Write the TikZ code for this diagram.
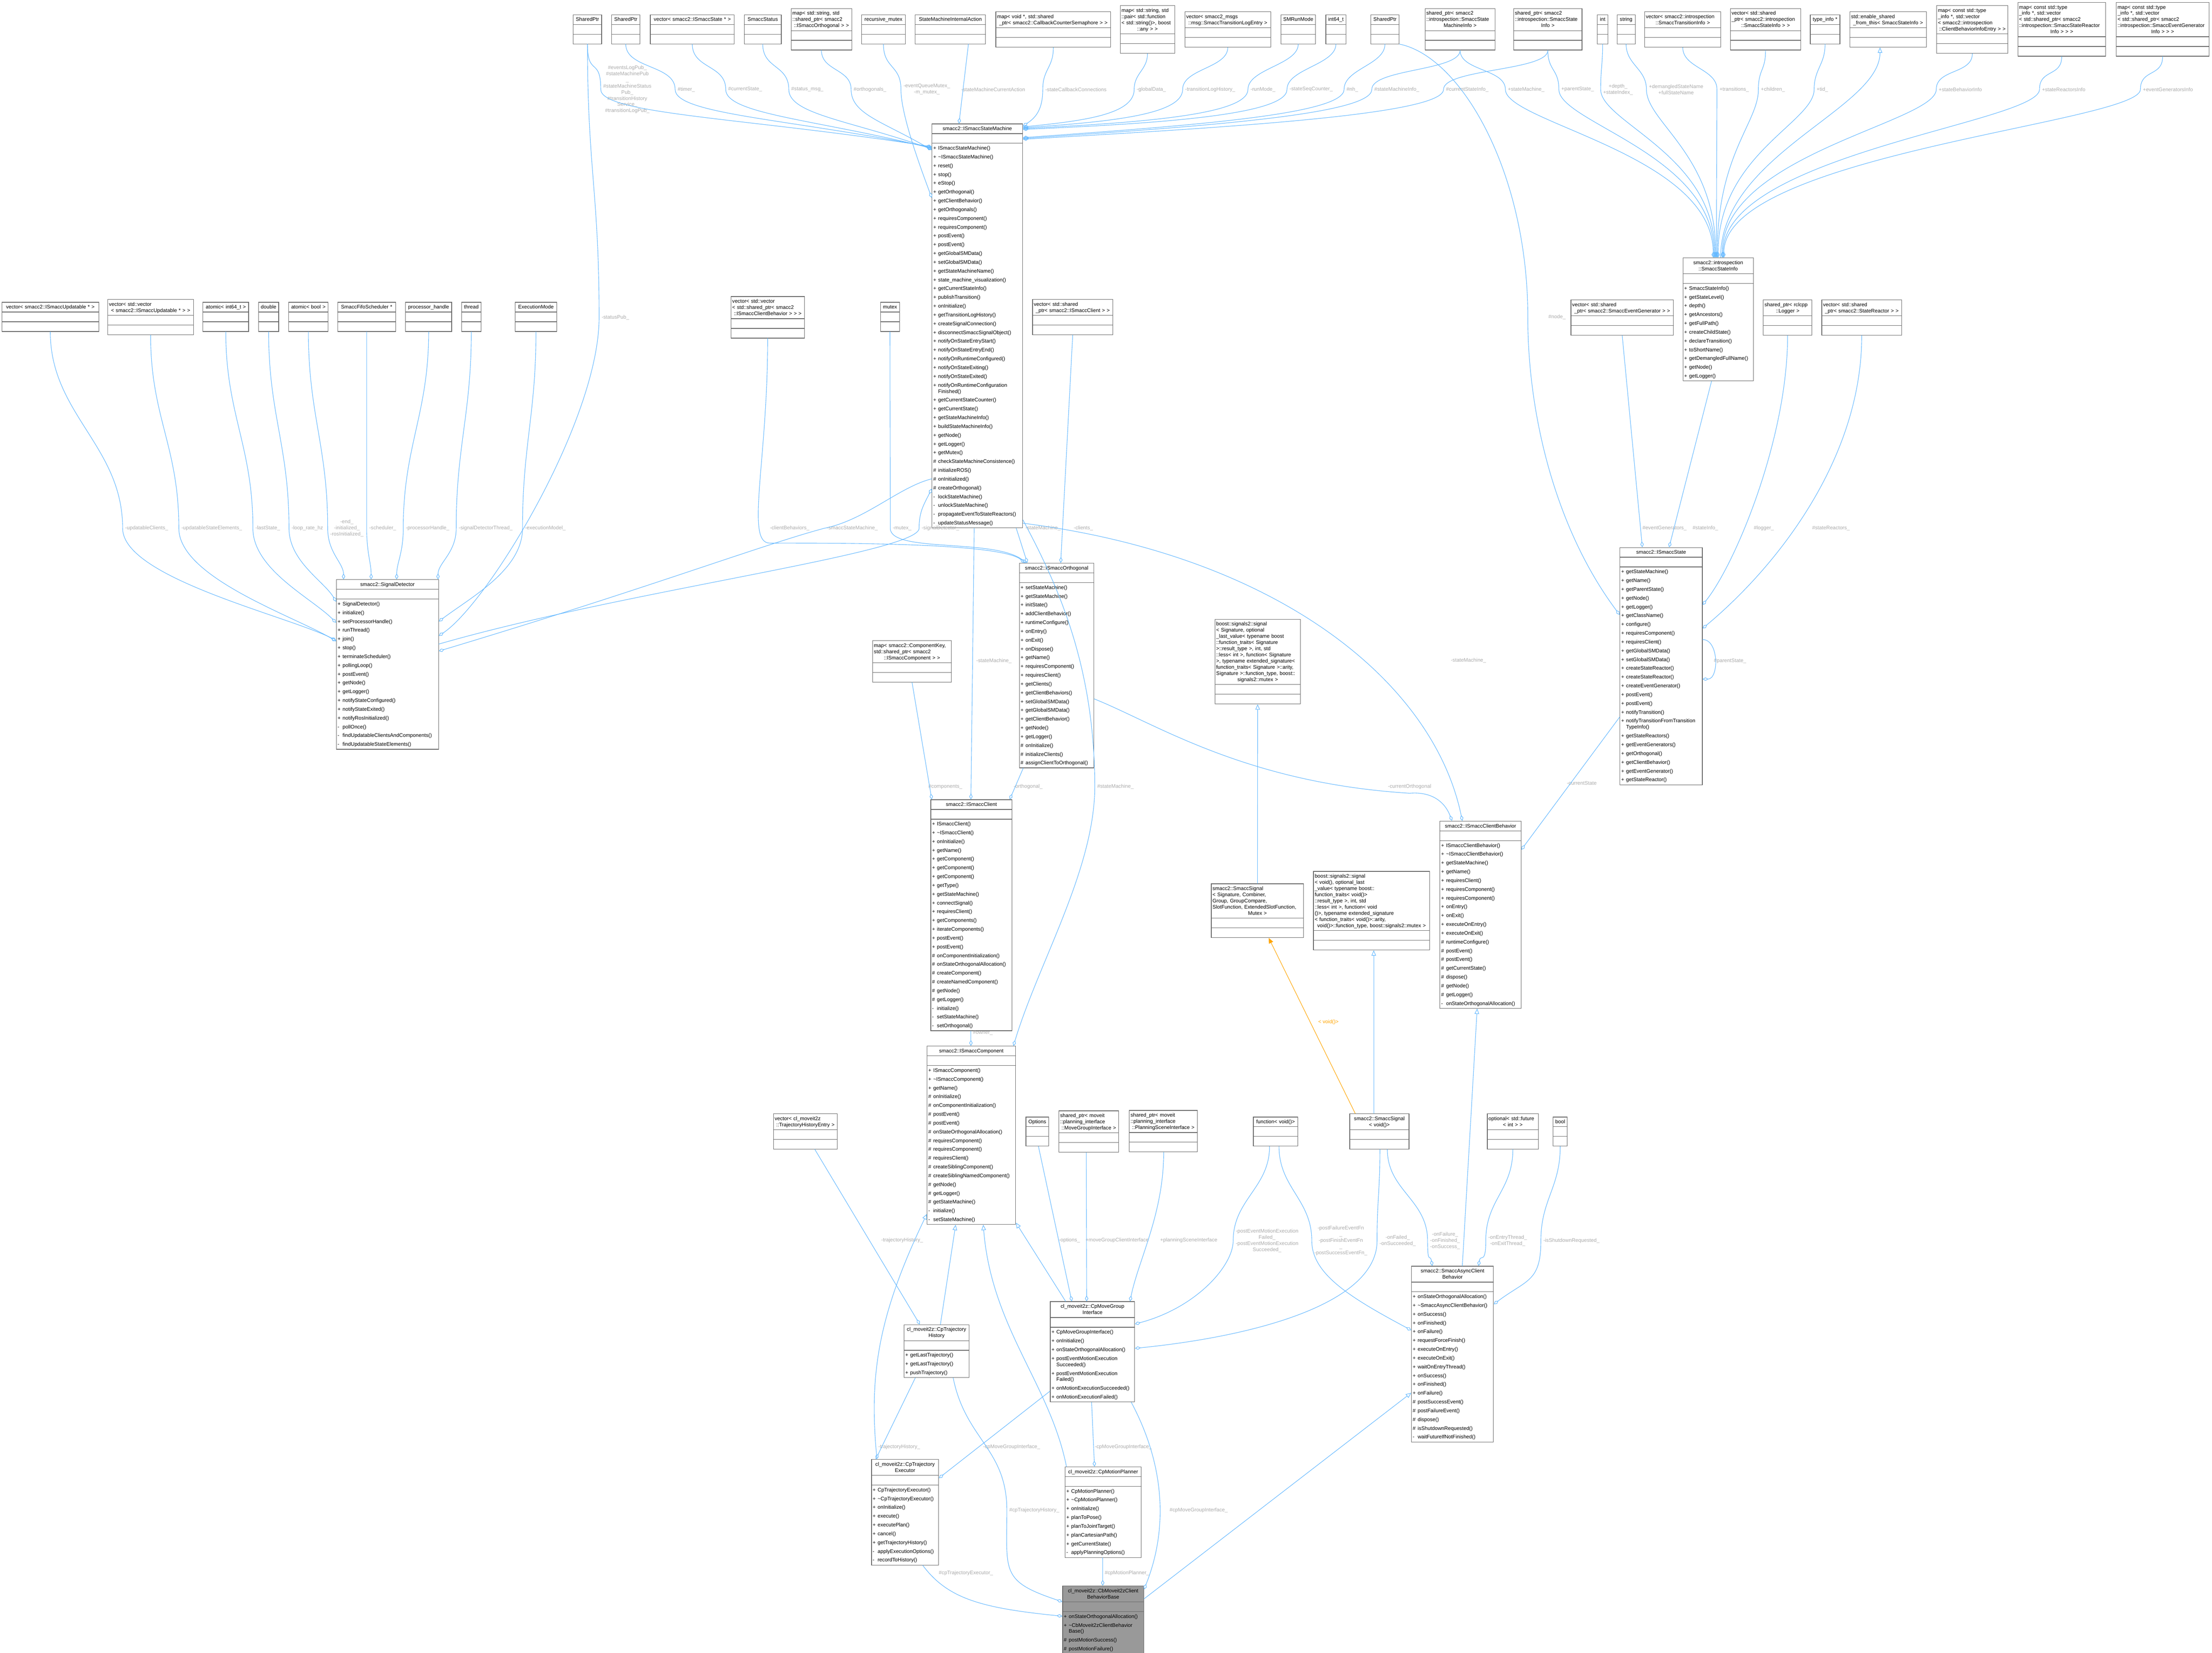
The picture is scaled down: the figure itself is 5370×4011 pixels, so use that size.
\documentclass[tikz,border=0pt]{standalone}
\usepackage{fontspec}
\setmainfont{Liberation Sans}
\usepackage{tikz}
\usetikzlibrary{arrows.meta,shapes.multipart}

\newcommand{\umlh}{\rule{0pt}{14.2pt}}
\newcommand{\umld}{\rule[-6.1pt]{0pt}{6.1pt}}
\newcommand{\ctitle}[1]{\centering\noindent\umlh#1\umld\par}
\newcommand{\ttitle}[2]{\raggedright\noindent\umlh#1\par\centering\noindent#2\umld\par}
\newcommand{\mline}[2]{\noindent\hangindent=12pt\hangafter=1\umlh\makebox[12pt][l]{#1}#2\umld\par}
\newcommand{\mpub}[1]{\mline{+}{#1}}
\newcommand{\mpro}[1]{\mline{\#}{#1}}
\newcommand{\mpri}[1]{\mline{-}{#1}}
\newcommand{\nopart}{\noindent\umlh\umld\par}
\newcommand{\tld}{\textasciitilde}

\begin{document}
\begin{tikzpicture}[x=1pt,y=-1pt,line cap=round]
  % Local definitions
  \def\typebox#1#2#3#4{\node[cls,text width=#3pt] (#1) at (#2) {#4\nodepart{second}\nopart\nodepart{third}\nopart};}

  % Colors
  \definecolor{steelblue}{HTML}{63B8FF}
  \definecolor{boxgrey}{HTML}{666666}
  \definecolor{labelgrey}{HTML}{ABABAB}
  \definecolor{maingrey}{HTML}{999999}
  \definecolor{tmplorange}{HTML}{FFA500}
  \colorlet{edgecolor}{steelblue}

  % Styles
  \tikzstyle{cls}=[rectangle split, rectangle split parts=3, draw=boxgrey, fill=white, line width=1.3pt,
    anchor=north west, inner xsep=3pt, inner ysep=1pt, align=left, font=\fontsize{12.5}{15}\selectfont]
  \tikzstyle{lbl}=[text=labelgrey, font=\fontsize{12.5}{15}\selectfont, align=center, inner sep=0pt]
  \tikzstyle{member}=[draw=edgecolor, line width=1.2pt, {Diamond[open,length=14pt,width=8pt]}-]
  \tikzstyle{inherit}=[draw=edgecolor, line width=1.2pt, {Triangle[open,length=13pt,width=11pt]}-]
  \tikzstyle{tmpl}=[draw=tmplorange, line width=1.2pt, {Triangle[length=13pt,width=11pt]}-]

  \fill[white] (0,0) rectangle (5370,4011);
  \useasboundingbox (0,0) rectangle (5370,4011);

  % member types, top row
  \typebox{sp1}{1391,35}{63}{\ctitle{SharedPtr}}
  \typebox{sp2}{1484,35}{63}{\ctitle{SharedPtr}}
  \typebox{vstate}{1578,35}{198}{\ctitle{vector< smacc2::ISmaccState * >}}
  \typebox{status}{1806,35}{84}{\ctitle{SmaccStatus}}
  \typebox{morth}{1920,20}{141}{\ttitle{map< std::string, std\\::shared\_ptr< smacc2}{::ISmaccOrthogonal > >}}
  \typebox{rmutex}{2091,35}{100}{\ctitle{recursive\_mutex}}
  \typebox{smia}{2221,35}{165}{\ctitle{StateMachineInternalAction}}
  \typebox{mcb}{2417,28}{273}{\ttitle{map< void *, std::shared}{\_ptr< smacc2::CallbackCounterSemaphore > >}}
  \typebox{mglob}{2719,13}{126}{\ttitle{map< std::string, std\\::pair< std::function\\< std::string()>, boost}{::any > >}}
  \typebox{vlog}{2876,28}{202}{\ttitle{vector< smacc2\_msgs}{::msg::SmaccTransitionLogEntry >}}
  \typebox{smrun}{3109,35}{78}{\ctitle{SMRunMode}}
  \typebox{i64}{3218,35}{43}{\ctitle{int64\_t}}
  \typebox{sp3}{3327,35}{63}{\ctitle{SharedPtr}}
  \typebox{psmi}{3459,20}{164}{\ttitle{shared\_ptr< smacc2\\::introspection::SmaccState}{MachineInfo >}}
  \typebox{psi}{3674,20}{160}{\ttitle{shared\_ptr< smacc2\\::introspection::SmaccState}{Info >}}
  \typebox{int}{3877,35}{20}{\ctitle{int}}
  \typebox{string}{3925,35}{38}{\ctitle{string}}
  \typebox{vtrans}{3992,28}{179}{\ttitle{vector< smacc2::introspection}{::SmaccTransitionInfo >}}
  \typebox{vchild}{4200,20}{165}{\ttitle{vector< std::shared\\\_ptr< smacc2::introspection}{::SmaccStateInfo > >}}
  \typebox{tinfo}{4394,35}{66}{\ctitle{type\_info *}}
  \typebox{eshared}{4490,28}{180}{\ttitle{std::enable\_shared}{\_from\_this< SmaccStateInfo >}}
  \typebox{mbeh}{4701,13}{167}{\ttitle{map< const std::type\\\_info *, std::vector\\< smacc2::introspection}{::ClientBehaviorInfoEntry > >}}
  \typebox{mreact}{4898,5}{207}{\ttitle{map< const std::type\\\_info *, std::vector\\< std::shared\_ptr< smacc2\\::introspection::SmaccStateReactor}{Info > > >}}
  \typebox{mevgen}{5137,5}{219}{\ttitle{map< const std::type\\\_info *, std::vector\\< std::shared\_ptr< smacc2\\::introspection::SmaccEventGenerator}{Info > > >}}

  % member types, middle row
  \typebox{vupd}{4,733}{229}{\ctitle{vector< smacc2::ISmaccUpdatable * >}}
  \typebox{vvupd}{261,726}{202}{\ttitle{vector< std::vector}{< smacc2::ISmaccUpdatable * > >}}
  \typebox{ai64}{492,733}{105}{\ctitle{atomic< int64\_t >}}
  \typebox{dbl}{627,733}{43}{\ctitle{double}}
  \typebox{abool}{700,733}{90}{\ctitle{atomic< bool >}}
  \typebox{sched}{819,733}{135}{\ctitle{SmaccFifoScheduler *}}
  \typebox{proch}{984,733}{106}{\ctitle{processor\_handle}}
  \typebox{thrd}{1120,733}{41}{\ctitle{thread}}
  \typebox{execm}{1250,733}{95}{\ctitle{ExecutionMode}}
  \typebox{vvcb}{1774,719}{172}{\ttitle{vector< std::vector\\< std::shared\_ptr< smacc2}{::ISmaccClientBehavior > > >}}
  \typebox{mtx}{2137,733}{40}{\ctitle{mutex}}
  \typebox{vcli}{2506,726}{189}{\ttitle{vector< std::shared}{\_ptr< smacc2::ISmaccClient > >}}
  \typebox{veg}{3813,727}{243}{\ttitle{vector< std::shared}{\_ptr< smacc2::SmaccEventGenerator > >}}
  \typebox{plog}{4280,727}{112}{\ttitle{shared\_ptr< rclcpp}{::Logger >}}
  \typebox{vsr}{4422,727}{188}{\ttitle{vector< std::shared}{\_ptr< smacc2::StateReactor > >}}
  \typebox{mcomp}{2118,1554}{185}{\ttitle{map< smacc2::ComponentKey,\\std::shared\_ptr< smacc2}{::ISmaccComponent > >}}

  % signals
  \typebox{bsig}{2949,1502}{201}{\ttitle{boost::signals2::signal\\< Signature, optional\\\_last\_value< typename boost\\::function\_traits< Signature\\ >::result\_type >, int, std\\::less< int >, function< Signature\\ >, typename extended\_signature<\\ function\_traits< Signature >::arity,\\ Signature >::function\_type, boost::}{signals2::mutex >}}
  \typebox{ssig}{2940,2144}{218}{\ttitle{smacc2::SmaccSignal\\< Signature, Combiner,\\ Group, GroupCompare,\\ SlotFunction, ExtendedSlotFunction,}{Mutex >}}
  \typebox{bsigv}{3188,2114}{276}{\ttitle{boost::signals2::signal\\< void(), optional\_last\\\_value< typename boost::\\function\_traits< void()>\\::result\_type >, int, std\\::less< int >, function< void\\()>, typename extended\_signature\\< function\_traits< void()>::arity,}{void()>::function\_type, boost::signals2::mutex >}}
  \typebox{ssigv}{3276,2702}{138}{\ctitle{smacc2::SmaccSignal\\< void()>}}
  \typebox{fvoid}{3042,2710}{102}{\ctitle{function< void()>}}
  \typebox{optf}{3610,2702}{118}{\ttitle{optional< std::future}{< int > >}}
  \typebox{bool}{3770,2710}{28}{\ctitle{bool}}

  % moveit2z member types
  \typebox{vthe}{1877,2702}{149}{\ttitle{vector< cl\_moveit2z}{::TrajectoryHistoryEntry >}}
  \typebox{opts}{2490,2710}{49}{\ctitle{Options}}
  \typebox{pmgi}{2570,2695}{139}{\ttitle{shared\_ptr< moveit\\::planning\_interface}{::MoveGroupInterface >}}
  \typebox{ppsi}{2741,2694}{159}{\ttitle{shared\_ptr< moveit\\::planning\_interface}{::PlanningSceneInterface >}}

  % classes
  \node[cls,text width=214pt] (sm) at (2262,300) {\ctitle{smacc2::ISmaccStateMachine}\nodepart{second}\nopart\nodepart{third}
    \mpub{ISmaccStateMachine()}\mpub{\tld ISmaccStateMachine()}\mpub{reset()}\mpub{stop()}\mpub{eStop()}
    \mpub{getOrthogonal()}\mpub{getClientBehavior()}\mpub{getOrthogonals()}\mpub{requiresComponent()}
    \mpub{requiresComponent()}\mpub{postEvent()}\mpub{postEvent()}\mpub{getGlobalSMData()}\mpub{setGlobalSMData()}
    \mpub{getStateMachineName()}\mpub{state\_machine\_visualization()}\mpub{getCurrentStateInfo()}
    \mpub{publishTransition()}\mpub{onInitialize()}\mpub{getTransitionLogHistory()}\mpub{createSignalConnection()}
    \mpub{disconnectSmaccSignalObject()}\mpub{notifyOnStateEntryStart()}\mpub{notifyOnStateEntryEnd()}
    \mpub{notifyOnRuntimeConfigured()}\mpub{notifyOnStateExiting()}\mpub{notifyOnStateExited()}
    \mpub{notifyOnRuntimeConfiguration\newline Finished()}\mpub{getCurrentStateCounter()}\mpub{getCurrentState()}
    \mpub{getStateMachineInfo()}\mpub{buildStateMachineInfo()}\mpub{getNode()}\mpub{getLogger()}\mpub{getMutex()}
    \mpro{checkStateMachineConsistence()}\mpro{initializeROS()}\mpro{onInitialized()}\mpro{createOrthogonal()}
    \mpri{lockStateMachine()}\mpri{unlockStateMachine()}\mpri{propagateEventToStateReactors()}\mpri{updateStatusMessage()}};
  \node[cls,text width=242pt] (sigdet) at (816,1406) {\ctitle{smacc2::SignalDetector}\nodepart{second}\nopart\nodepart{third}
    \mpub{SignalDetector()}\mpub{initialize()}\mpub{setProcessorHandle()}\mpub{runThread()}\mpub{join()}\mpub{stop()}
    \mpub{terminateScheduler()}\mpub{pollingLoop()}\mpub{postEvent()}\mpub{getNode()}\mpub{getLogger()}
    \mpub{notifyStateConfigured()}\mpub{notifyStateExited()}\mpub{notifyRosInitialized()}\mpri{pollOnce()}
    \mpri{findUpdatableClientsAndComponents()}\mpri{findUpdatableStateElements()}};
  \node[cls,text width=175pt] (orth) at (2474,1366) {\ctitle{smacc2::ISmaccOrthogonal}\nodepart{second}\nopart\nodepart{third}
    \mpub{setStateMachine()}\mpub{getStateMachine()}\mpub{initState()}\mpub{addClientBehavior()}\mpub{runtimeConfigure()}
    \mpub{onEntry()}\mpub{onExit()}\mpub{onDispose()}\mpub{getName()}\mpub{requiresComponent()}\mpub{requiresClient()}
    \mpub{getClients()}\mpub{getClientBehaviors()}\mpub{setGlobalSMData()}\mpub{getGlobalSMData()}\mpub{getClientBehavior()}
    \mpub{getNode()}\mpub{getLogger()}\mpro{onInitialize()}\mpro{initializeClients()}\mpro{assignClientToOrthogonal()}};
  \node[cls,text width=191pt] (cli) at (2259,1940) {\ctitle{smacc2::ISmaccClient}\nodepart{second}\nopart\nodepart{third}
    \mpub{ISmaccClient()}\mpub{\tld ISmaccClient()}\mpub{onInitialize()}\mpub{getName()}\mpub{getComponent()}
    \mpub{getComponent()}\mpub{getComponent()}\mpub{getType()}\mpub{getStateMachine()}\mpub{connectSignal()}
    \mpub{requiresClient()}\mpub{getComponents()}\mpub{iterateComponents()}\mpub{postEvent()}\mpub{postEvent()}
    \mpro{onComponentInitialization()}\mpro{onStateOrthogonalAllocation()}\mpro{createComponent()}
    \mpro{createNamedComponent()}\mpro{getNode()}\mpro{getLogger()}\mpri{initialize()}\mpri{setStateMachine()}
    \mpri{setOrthogonal()}};
  \node[cls,text width=209pt] (comp) at (2250,2538) {\ctitle{smacc2::ISmaccComponent}\nodepart{second}\nopart\nodepart{third}
    \mpub{ISmaccComponent()}\mpub{\tld ISmaccComponent()}\mpub{getName()}\mpro{onInitialize()}
    \mpro{onComponentInitialization()}\mpro{postEvent()}\mpro{postEvent()}\mpro{onStateOrthogonalAllocation()}
    \mpro{requiresComponent()}\mpro{requiresComponent()}\mpro{requiresClient()}\mpro{createSiblingComponent()}
    \mpro{createSiblingNamedComponent()}\mpro{getNode()}\mpro{getLogger()}\mpro{getStateMachine()}
    \mpri{initialize()}\mpri{setStateMachine()}};
  \node[cls,text width=165pt] (ssi) at (4085,625) {\ctitle{smacc2::introspection\\::SmaccStateInfo}\nodepart{second}\nopart\nodepart{third}
    \mpub{SmaccStateInfo()}\mpub{getStateLevel()}\mpub{depth()}\mpub{getAncestors()}\mpub{getFullPath()}
    \mpub{createChildState()}\mpub{declareTransition()}\mpub{toShortName()}\mpub{getDemangledFullName()}
    \mpub{getNode()}\mpub{getLogger()}};
  \node[cls,text width=194pt] (st) at (3932,1328) {\ctitle{smacc2::ISmaccState}\nodepart{second}\nopart\nodepart{third}
    \mpub{getStateMachine()}\mpub{getName()}\mpub{getParentState()}\mpub{getNode()}\mpub{getLogger()}
    \mpub{getClassName()}\mpub{configure()}\mpub{requiresComponent()}\mpub{requiresClient()}\mpub{getGlobalSMData()}
    \mpub{setGlobalSMData()}\mpub{createStateReactor()}\mpub{createStateReactor()}\mpub{createEventGenerator()}
    \mpub{postEvent()}\mpub{postEvent()}\mpub{notifyTransition()}\mpub{notifyTransitionFromTransition\newline TypeInfo()}
    \mpub{getStateReactors()}\mpub{getEventGenerators()}\mpub{getOrthogonal()}\mpub{getClientBehavior()}
    \mpub{getEventGenerator()}\mpub{getStateReactor()}};
  \node[cls,text width=191pt] (cb) at (3495,1992) {\ctitle{smacc2::ISmaccClientBehavior}\nodepart{second}\nopart\nodepart{third}
    \mpub{ISmaccClientBehavior()}\mpub{\tld ISmaccClientBehavior()}\mpub{getStateMachine()}\mpub{getName()}
    \mpub{requiresClient()}\mpub{requiresComponent()}\mpub{requiresComponent()}\mpub{onEntry()}\mpub{onExit()}
    \mpub{executeOnEntry()}\mpub{executeOnExit()}\mpro{runtimeConfigure()}\mpro{postEvent()}\mpro{postEvent()}
    \mpro{getCurrentState()}\mpro{dispose()}\mpro{getNode()}\mpro{getLogger()}\mpri{onStateOrthogonalAllocation()}};
  \node[cls,text width=193pt] (async) at (3426,3072) {\ctitle{smacc2::SmaccAsyncClient\\Behavior}\nodepart{second}\nopart\nodepart{third}
    \mpub{onStateOrthogonalAllocation()}\mpub{\tld SmaccAsyncClientBehavior()}\mpub{onSuccess()}\mpub{onFinished()}
    \mpub{onFailure()}\mpub{requestForceFinish()}\mpub{executeOnEntry()}\mpub{executeOnExit()}\mpub{waitOnEntryThread()}
    \mpub{onSuccess()}\mpub{onFinished()}\mpub{onFailure()}\mpro{postSuccessEvent()}\mpro{postFailureEvent()}
    \mpro{dispose()}\mpro{isShutdownRequested()}\mpri{waitFutureIfNotFinished()}};
  \node[cls,text width=199pt] (mgi) at (2549,3158) {\ctitle{cl\_moveit2z::CpMoveGroup\\Interface}\nodepart{second}\nopart\nodepart{third}
    \mpub{CpMoveGroupInterface()}\mpub{onInitialize()}\mpub{onStateOrthogonalAllocation()}
    \mpub{postEventMotionExecution\newline Succeeded()}\mpub{postEventMotionExecution\newline Failed()}
    \mpub{onMotionExecutionSucceeded()}\mpub{onMotionExecutionFailed()}};
  \node[cls,text width=152pt] (hist) at (2194,3214) {\ctitle{cl\_moveit2z::CpTrajectory\\History}\nodepart{second}\nopart\nodepart{third}
    \mpub{getLastTrajectory()}\mpub{getLastTrajectory()}\mpub{pushTrajectory()}};
  \node[cls,text width=157pt] (exe) at (2115,3541) {\ctitle{cl\_moveit2z::CpTrajectory\\Executor}\nodepart{second}\nopart\nodepart{third}
    \mpub{CpTrajectoryExecutor()}\mpub{\tld CpTrajectoryExecutor()}\mpub{onInitialize()}\mpub{execute()}
    \mpub{executePlan()}\mpub{cancel()}\mpub{getTrajectoryHistory()}\mpri{applyExecutionOptions()}\mpri{recordToHistory()}};
  \node[cls,text width=179pt] (mp) at (2585,3559) {\ctitle{cl\_moveit2z::CpMotionPlanner}\nodepart{second}\nopart\nodepart{third}
    \mpub{CpMotionPlanner()}\mpub{\tld CpMotionPlanner()}\mpub{onInitialize()}\mpub{planToPose()}\mpub{planToJointTarget()}
    \mpub{planCartesianPath()}\mpub{getCurrentState()}\mpri{applyPlanningOptions()}};
  \node[cls,fill=maingrey,text width=191pt] (cbm) at (2579,3848) {\ctitle{cl\_moveit2z::CbMoveit2zClient\\BehaviorBase}\nodepart{second}\nopart\nodepart{third}
    \mpub{onStateOrthogonalAllocation()}\mpub{\tld CbMoveit2zClientBehavior\newline Base()}\mpro{postMotionSuccess()}
    \mpro{postMotionFailure()}};

  % edge labels
  \node[lbl] (l-pub) at (1523,217) {\#eventsLogPub\_\\\#stateMachinePub\\\_\\\#stateMachineStatus\\Pub\_\\\#transitionHistory\\Service\_\\\#transitionLogPub\_};
  \node[lbl] (l-timer) at (1666,217) {\#timer\_};
  \node[lbl] (l-cs) at (1809,217) {\#currentState\_};
  \node[lbl] (l-stmsg) at (1960,217) {\#status\_msg\_};
  \node[lbl] (l-orths) at (2112,217) {\#orthogonals\_};
  \node[lbl] (l-eqm) at (2250,217) {-eventQueueMutex\_\\-m\_mutex\_};
  \node[lbl] (l-smca) at (2411,217) {-stateMachineCurrentAction};
  \node[lbl] (l-scc) at (2612,217) {-stateCallbackConnections};
  \node[lbl] (l-glob) at (2795,217) {-globalData\_};
  \node[lbl] (l-tlh) at (2938,217) {-transitionLogHistory\_};
  \node[lbl] (l-run) at (3066,217) {-runMode\_};
  \node[lbl] (l-seq) at (3183,217) {-stateSeqCounter\_};
  \node[lbl] (l-nh) at (3283,217) {\#nh\_};
  \node[lbl] (l-smi) at (3391,217) {\#stateMachineInfo\_};
  \node[lbl] (l-csi) at (3562,217) {\#currentStateInfo\_};
  \node[lbl] (l-smc) at (3705,217) {+stateMachine\_};
  \node[lbl] (l-par) at (3830,217) {+parentState\_};
  \node[lbl] (l-depth) at (3928,217) {+depth\_\\+stateIndex\_};
  \node[lbl] (l-names) at (4069,217) {+demangledStateName\\+fullStateName};
  \node[lbl] (l-trans) at (4210,217) {+transitions\_};
  \node[lbl] (l-child) at (4304,217) {+children\_};
  \node[lbl] (l-tid) at (4424,217) {+tid\_};
  \node[lbl] (l-sbi) at (4759,217) {+stateBehaviorInfo};
  \node[lbl] (l-sri) at (5010,217) {+stateReactorsInfo};
  \node[lbl] (l-egi) at (5263,217) {+eventGeneratorsInfo};
  \node[lbl] (l-node) at (3780,769) {\#node\_};
  \node[lbl] (l-stpub) at (1494,770) {-statusPub\_};
  \node[lbl] (l-updc) at (356,1282) {-updatableClients\_};
  \node[lbl] (l-upse) at (514,1282) {-updatableStateElements\_};
  \node[lbl] (l-last) at (650,1282) {-lastState\_};
  \node[lbl] (l-loop) at (746,1282) {-loop\_rate\_hz};
  \node[lbl] (l-flags) at (842,1282) {-end\_\\-initialized\_\\-rosInitialized\_};
  \node[lbl] (l-sched) at (929,1282) {-scheduler\_};
  \node[lbl] (l-proc) at (1038,1282) {-processorHandle\_};
  \node[lbl] (l-thr) at (1179,1282) {-signalDetectorThread\_};
  \node[lbl] (l-exec) at (1324,1282) {-executionModel\_};
  \node[lbl] (l-cbeh) at (1917,1282) {-clientBehaviors\_};
  \node[lbl] (l-ssm) at (2069,1282) {-smaccStateMachine\_};
  \node[lbl] (l-mutex) at (2190,1282) {-mutex\_};
  \node[lbl] (l-sigd) at (2283,1282) {-signalDetector\_};
  \node[lbl] (l-osm) at (2532,1282) {-stateMachine\_};
  \node[lbl] (l-cli) at (2630,1282) {-clients\_};
  \node[lbl] (l-evg) at (4041,1282) {\#eventGenerators\_};
  \node[lbl] (l-sinfo) at (4140,1282) {\#stateInfo\_};
  \node[lbl] (l-logger) at (4282,1282) {\#logger\_};
  \node[lbl] (l-reac) at (4445,1282) {\#stateReactors\_};
  \node[lbl] (l-pst) at (4200,1604) {\#parentState\_};
  \node[lbl] (l-csm) at (2413,1604) {-stateMachine\_};
  \node[lbl] (l-bsm) at (3565,1603) {-stateMachine\_};
  \node[lbl] (l-comps) at (2295,1909) {\#components\_};
  \node[lbl] (l-orth) at (2496,1909) {-orthogonal\_};
  \node[lbl] (l-psm) at (2708,1909) {\#stateMachine\_};
  \node[lbl] (l-corth) at (3422,1909) {-currentOrthogonal};
  \node[lbl] (l-cst) at (3840,1900) {-currentState};
  \node[lbl] (l-owner) at (2386,2506) {\#owner\_};
  \node[lbl,text=tmplorange] (l-tvoid) at (3225,2480) {< void()>};
  \node[lbl] (l-th) at (2190,3010) {-trajectoryHistory\_};
  \node[lbl] (l-opt) at (2596,3010) {-options\_};
  \node[lbl] (l-mgci) at (2712,3010) {+moveGroupClientInterface};
  \node[lbl] (l-psi) at (2886,3010) {+planningSceneInterface};
  \node[lbl] (l-pemf) at (3076,3011) {-postEventMotionExecution\\Failed\_\\-postEventMotionExecution\\Succeeded\_};
  \node[lbl] (l-pfn) at (3255,3011) {-postFailureEventFn\\\_\\-postFinishEventFn\\\_\\-postSuccessEventFn\_};
  \node[lbl] (l-onfs) at (3393,3011) {-onFailed\_\\-onSucceeded\_};
  \node[lbl] (l-onfail) at (3508,3011) {-onFailure\_\\-onFinished\_\\-onSuccess\_};
  \node[lbl] (l-fut) at (3660,3011) {-onEntryThread\_\\-onExitThread\_};
  \node[lbl] (l-shut) at (3815,3011) {-isShutdownRequested\_};
  \node[lbl] (l-eth) at (2183,3511) {-trajectoryHistory\_};
  \node[lbl] (l-emgi) at (2456,3511) {-cpMoveGroupInterface\_};
  \node[lbl] (l-pmgi) at (2727,3511) {-cpMoveGroupInterface\_};
  \node[lbl] (l-cph) at (2511,3665) {\#cpTrajectoryHistory\_};
  \node[lbl] (l-cmgi) at (2910,3665) {\#cpMoveGroupInterface\_};
  \node[lbl] (l-cpe) at (2345,3818) {\#cpTrajectoryExecutor\_};
  \node[lbl] (l-cmp) at (2736,3818) {\#cpMotionPlanner\_};

  % ISmaccStateMachine members, left
  \draw[member] ([yshift=-56pt]sm.north west) .. controls +(-450,-70) and +(0,60) .. ([xshift=-6pt]l-pub.west) .. controls +(0,-80) and +(0,80) .. (sp1.south);
  \draw[member] ([yshift=-58pt]sm.north west) .. controls +(-350,-70) and +(0,60) .. ([xshift=-6pt]l-timer.west) .. controls +(0,-60) and +(0,60) .. (sp2.south);
  \draw[member] ([yshift=-60pt]sm.north west) .. controls +(-280,-70) and +(0,60) .. ([xshift=-6pt]l-cs.west) .. controls +(0,-60) and +(0,60) .. (vstate.south);
  \draw[member] ([yshift=-62pt]sm.north west) .. controls +(-200,-70) and +(0,60) .. ([xshift=-6pt]l-stmsg.west) .. controls +(0,-60) and +(0,60) .. (status.south);
  \draw[member] ([yshift=-64pt]sm.north west) .. controls +(-120,-70) and +(0,60) .. ([xshift=-6pt]l-orths.west) .. controls +(0,-50) and +(0,50) .. (morth.south);
  \draw[member] ([yshift=-180pt]sm.north west) .. controls +(-30,-80) and +(0,60) .. ([xshift=-6pt]l-eqm.west) .. controls +(0,-60) and +(0,60) .. (rmutex.south);
  \draw[member] ([xshift=66pt]sm.north west) -- ([xshift=130pt]smia.south west);

  % ISmaccStateMachine members, right
  \draw[member] ([yshift=-6pt]sm.north east) .. controls +(30,-20) and +(0,50) .. ([xshift=-6pt]l-scc.west) .. controls +(0,-50) and +(0,50) .. (mcb.south);
  \draw[member] ([yshift=-8pt]sm.north east) .. controls +(150,-15) and +(0,60) .. ([xshift=-6pt]l-glob.west) .. controls +(0,-40) and +(0,40) .. (mglob.south);
  \draw[member] ([yshift=-10pt]sm.north east) .. controls +(220,-15) and +(0,60) .. ([xshift=-6pt]l-tlh.west) .. controls +(0,-50) and +(0,50) .. (vlog.south);
  \draw[member] ([yshift=-12pt]sm.north east) .. controls +(300,-15) and +(0,60) .. ([xshift=-6pt]l-run.west) .. controls +(0,-50) and +(0,50) .. (smrun.south);
  \draw[member] ([yshift=-14pt]sm.north east) .. controls +(350,-15) and +(0,60) .. ([xshift=-6pt]l-seq.west) .. controls +(0,-50) and +(0,50) .. (i64.south);
  \draw[member] ([yshift=-34pt]sm.north east) .. controls +(420,-30) and +(0,60) .. ([xshift=-6pt]l-nh.west) .. controls +(0,-50) and +(0,50) .. (sp3.south);
  \draw[member] ([yshift=-36pt]sm.north east) .. controls +(450,-30) and +(0,60) .. ([xshift=-6pt]l-smi.west) .. controls +(0,-50) and +(0,50) .. (psmi.south);
  \draw[member] ([yshift=-38pt]sm.north east) .. controls +(520,-30) and +(0,60) .. ([xshift=-6pt]l-csi.west) .. controls +(0,-50) and +(0,50) .. (psi.south);

  % SmaccStateInfo members
  \draw[member] ([xshift=74pt]ssi.north west) .. controls +(0,-250) and +(0,80) .. ([xshift=-6pt]l-smc.west) .. controls +(0,-50) and +(0,50) .. (psmi.south);
  \draw[member] ([xshift=76pt]ssi.north west) .. controls +(0,-250) and +(0,80) .. ([xshift=-6pt]l-par.west) .. controls +(0,-50) and +(0,50) .. (psi.south);
  \draw[member] ([xshift=78pt]ssi.north west) .. controls +(0,-250) and +(0,80) .. ([xshift=-6pt]l-depth.west) .. controls +(0,-50) and +(0,50) .. (int.south);
  \draw[member] ([xshift=80pt]ssi.north west) .. controls +(0,-250) and +(0,80) .. ([xshift=-6pt]l-names.west) .. controls +(0,-50) and +(0,50) .. (string.south);
  \draw[member] ([xshift=82pt]ssi.north west) .. controls +(0,-250) and +(0,80) .. ([xshift=-6pt]l-trans.west) .. controls +(0,-50) and +(0,50) .. (vtrans.south);
  \draw[member] ([xshift=84pt]ssi.north west) .. controls +(0,-250) and +(0,80) .. ([xshift=-6pt]l-child.west) .. controls +(0,-50) and +(0,50) .. (vchild.south);
  \draw[member] ([xshift=86pt]ssi.north west) .. controls +(0,-250) and +(0,80) .. ([xshift=-6pt]l-tid.west) .. controls +(0,-50) and +(0,50) .. (tinfo.south);
  \draw[inherit] ([xshift=74pt]eshared.south west) .. controls +(0,150) and +(0,-250) .. ([xshift=92pt]ssi.north west);
  \draw[member] ([xshift=96pt]ssi.north west) .. controls +(0,-250) and +(0,80) .. ([xshift=-6pt]l-sbi.west) .. controls +(0,-50) and +(0,50) .. (mbeh.south);
  \draw[member] ([xshift=98pt]ssi.north west) .. controls +(0,-250) and +(0,80) .. ([xshift=-6pt]l-sri.west) .. controls +(0,-50) and +(0,50) .. (mreact.south);
  \draw[member] ([xshift=100pt]ssi.north west) .. controls +(0,-250) and +(0,80) .. ([xshift=-6pt]l-egi.west) .. controls +(0,-50) and +(0,50) .. (mevgen.south);

  % ISmaccState members
  \draw[member] ([yshift=-164pt]st.north west) .. controls +(-150,-200) and +(0,250) .. ([xshift=-50pt]l-node.west) .. controls +(0,-350) and +(150,30) .. (sp3.south east);
  \draw[member] ([xshift=55pt]st.north west) -- (veg.south);
  \draw[member] ([xshift=120pt]st.north west) -- ([xshift=70pt]ssi.south west);
  \draw[member] ([yshift=-140pt]st.north east) .. controls +(80,-100) and +(0,250) .. (plog.south);
  \draw[member] ([yshift=-197pt]st.north east) .. controls +(180,-150) and +(0,300) .. (vsr.south);
  \draw[member] ([yshift=-320pt]st.north east) .. controls +(40,0) and +(40,0) .. ([yshift=-224pt]st.north east);

  % SignalDetector members
  \draw[member] ([yshift=-148pt]sigdet.north west) .. controls +(-120,-60) and +(0,120) .. ([xshift=-6pt]l-updc.west) .. controls +(0,-200) and +(0,200) .. (vupd.south);
  \draw[member] ([yshift=-150pt]sigdet.north west) .. controls +(-100,-60) and +(0,120) .. ([xshift=-6pt]l-upse.west) .. controls +(0,-200) and +(0,200) .. (vvupd.south);
  \draw[member] ([yshift=-105pt]sigdet.north west) .. controls +(-60,-60) and +(0,100) .. ([xshift=-6pt]l-last.west) .. controls +(0,-200) and +(0,200) .. (ai64.south);
  \draw[member] ([yshift=-54pt]sigdet.north west) .. controls +(-30,-50) and +(0,80) .. ([xshift=-6pt]l-loop.west) .. controls +(0,-200) and +(0,200) .. (dbl.south);
  \draw[member] ([xshift=18pt]sigdet.north west) .. controls +(0,-40) and +(0,60) .. ([xshift=-6pt]l-flags.west) .. controls +(0,-200) and +(0,200) .. (abool.south);
  \draw[member] ([xshift=85pt]sigdet.north west) .. controls +(0,-40) and +(0,60) .. ([xshift=-6pt]l-sched.west) .. controls +(0,-200) and +(0,200) .. (sched.south);
  \draw[member] ([xshift=147pt]sigdet.north west) .. controls +(0,-40) and +(0,60) .. ([xshift=-6pt]l-proc.west) .. controls +(0,-200) and +(0,200) .. (proch.south);
  \draw[member] ([xshift=-2pt]sigdet.north east) .. controls +(0,-40) and +(0,60) .. ([xshift=-6pt]l-thr.west) .. controls +(0,-200) and +(0,200) .. (thrd.south);
  \draw[member] ([yshift=-102pt]sigdet.north east) .. controls +(80,-60) and +(0,100) .. ([xshift=-6pt]l-exec.west) .. controls +(0,-200) and +(0,200) .. (execm.south);
  \draw[member] ([yshift=-137pt]sigdet.north east) .. controls +(120,-80) and +(0,250) .. ([xshift=-6pt]l-stpub.west) .. controls +(0,-300) and +(0,300) .. (sp1.south);
  \draw[member] ([yshift=-174pt]sigdet.north east) .. controls +(500,-150) and +(-150,40) .. ([xshift=-6pt]l-ssm.west) .. controls +(100,-20) and +(-80,20) .. ([yshift=-862pt]sm.north west);
  \draw[member] ([yshift=-886pt]sm.north west) .. controls +(-20,40) and +(0,-40) .. ([xshift=-6pt]l-sigd.west) .. controls +(0,60) and +(450,-130) .. ([yshift=-157pt]sigdet.north east);

  % ISmaccOrthogonal members
  \draw[member] ([xshift=14pt]orth.north west) .. controls +(-60,-50) and +(150,0) .. ([yshift=-36pt]l-cbeh.west) .. controls +(-60,0) and +(0,300) .. (vvcb.south);
  \draw[member] ([xshift=18pt]orth.north west) .. controls +(-80,-60) and +(0,60) .. ([xshift=-6pt]l-mutex.west) .. controls +(0,-200) and +(0,200) .. (mtx.south);
  \draw[member] ([xshift=20pt]orth.north west) -- ([xshift=205pt]sm.south west);
  \draw[member] ([xshift=101pt]orth.north west) -- (vcli.south);

  % ISmaccClient and ISmaccComponent members
  \draw[member] ([xshift=3pt]cli.north west) -- (mcomp.south);
  \draw[member] ([xshift=98pt]cli.north west) -- ([xshift=103pt]sm.south west);
  \draw[member] ([xshift=-6pt]cli.north east) -- ([xshift=10pt]orth.south west);
  \draw[member] ([xshift=107pt]comp.north west) -- ([xshift=98pt]cli.south west);
  \draw[member] ([xshift=-6pt]comp.north east) .. controls +(60,-200) and +(0,200) .. ([xshift=-6pt]l-psm.west) .. controls +(0,-300) and +(80,150) .. ([yshift=20pt]sm.south east);

  % ISmaccClientBehavior members
  \draw[member] ([xshift=30pt]cb.north west) .. controls +(-15,-40) and +(60,-5) .. ([yshift=-16pt]l-corth.center) .. controls +(-400,-25) and +(150,60) .. ([yshift=-330pt]orth.north east);
  \draw[member] ([xshift=55pt]cb.north west) .. controls +(-70,-338) and +(618,78) .. ([yshift=12pt]sm.south east);
  \draw[member] ([yshift=-70pt]cb.north east) -- ([yshift=-412pt]st.north west);

  % signals and behaviors
  \draw[inherit] (bsig.south) -- (ssig.north);
  \draw[inherit] ([xshift=147pt]bsigv.south west) -- ([xshift=59pt]ssigv.north west);
  \draw[tmpl] ([xshift=140pt]ssig.south west) -- ([xshift=14pt]ssigv.north west);
  \draw[inherit] ([xshift=91pt]cb.south west) -- ([xshift=124pt]async.north west);
  \draw[inherit] ([yshift=-308pt]async.north west) -- ([yshift=-32pt]cbm.north east);
  \draw[member] ([yshift=-156pt]async.north west) .. controls +(-150,-80) and +(0,80) .. ([xshift=-6pt]l-pfn.west) .. controls +(0,-100) and +(0,100) .. ([xshift=63pt]fvoid.south west);
  \draw[member] ([xshift=51pt]async.north west) .. controls +(-5,-30) and +(0,60) .. ([xshift=-6pt]l-onfail.west) .. controls +(0,-100) and +(0,100) .. ([xshift=92pt]ssigv.south west);
  \draw[member] ([xshift=-37pt]async.north east) .. controls +(5,-30) and +(0,60) .. ([xshift=-6pt]l-fut.west) .. controls +(0,-100) and +(0,100) .. (optf.south);
  \draw[member] ([yshift=-93pt]async.north east) .. controls +(80,-60) and +(0,100) .. ([xshift=-6pt]l-shut.west) .. controls +(0,-100) and +(0,100) .. (bool.south);

  % components
  \draw[inherit] ([xshift=70pt]comp.south west) -- ([xshift=89pt]hist.north west);
  \draw[inherit] ([yshift=26pt]comp.south west) .. controls +(-120,250) and +(-20,-200) .. ([xshift=14pt]exe.north west);
  \draw[inherit] ([xshift=137pt]comp.south west) .. controls +(20,250) and +(-40,-200) .. ([xshift=4pt]mp.north west);
  \draw[inherit] ([yshift=5pt]comp.south east) -- ([xshift=38pt]mgi.north west);
  \draw[member] ([xshift=39pt]hist.north west) -- ([xshift=101pt]vthe.south west);
  \draw[member] ([xshift=53pt]mgi.north west) -- ([xshift=31pt]opts.south west);
  \draw[member] ([xshift=89pt]mgi.north west) -- ([xshift=67pt]pmgi.south west);
  \draw[member] ([xshift=-12pt]mgi.north east) .. controls +(20,-100) and +(0,150) .. ([xshift=84pt]ppsi.south west);
  \draw[member] ([yshift=-55pt]mgi.north east) .. controls +(150,-40) and +(0,60) .. ([xshift=-6pt]l-pemf.west) .. controls +(0,-100) and +(0,100) .. ([xshift=40pt]fvoid.south west);
  \draw[member] ([yshift=-114pt]mgi.north east) .. controls +(300,-30) and +(0,150) .. ([xshift=-6pt]l-onfs.west) .. controls +(0,-100) and +(0,100) .. ([xshift=74pt]ssigv.south west);
  \draw[member] ([xshift=11pt]exe.north west) -- ([xshift=28pt]hist.south west);
  \draw[member] ([yshift=-46pt]exe.north east) -- ([yshift=27pt]mgi.south west);
  \draw[member] ([xshift=72pt]mp.north west) -- ([xshift=101pt]mgi.south west);
  \draw[member] ([yshift=-39pt]cbm.north west) .. controls +(-150,-50) and +(0,150) .. ([xshift=-6pt]l-cph.west) .. controls +(0,-150) and +(30,150) .. ([xshift=120pt]hist.south west);
  \draw[member] ([yshift=-74pt]cbm.north west) .. controls +(-200,-20) and +(60,80) .. ([xshift=125pt]exe.south west);
  \draw[member] ([xshift=98pt]cbm.north west) -- ([xshift=92pt]mp.south west);
  \draw[member] ([yshift=-9pt]cbm.north east) .. controls +(60,-150) and +(80,150) .. ([xshift=-9pt]mgi.south east);
\end{tikzpicture}
\end{document}
